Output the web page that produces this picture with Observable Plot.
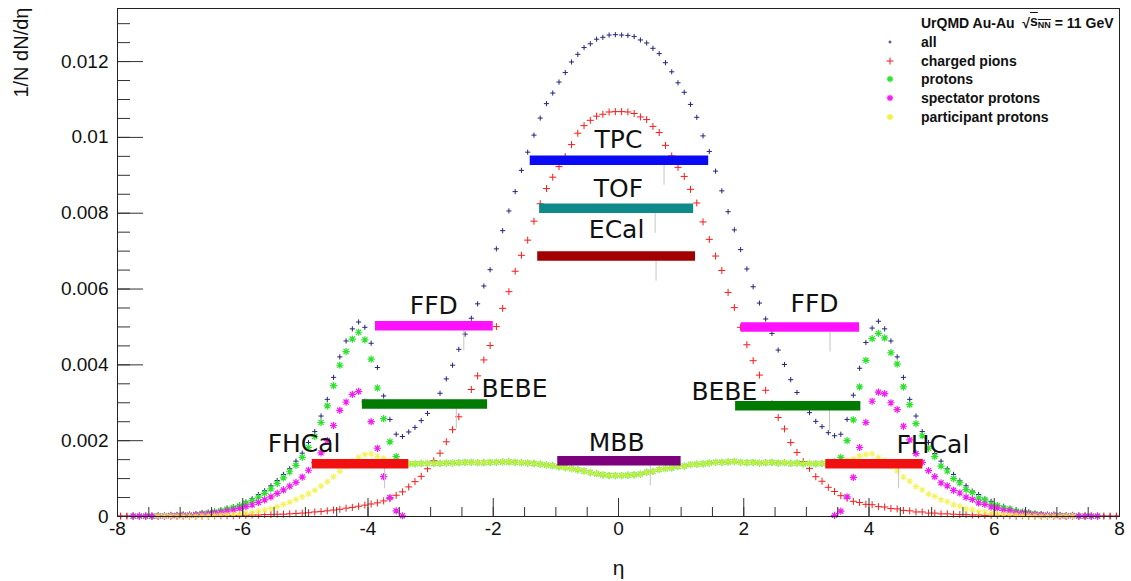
<!DOCTYPE html>
<html>
<head>
<meta charset="utf-8">
<script src="https://cdn.jsdelivr.net/npm/d3@7"></script>
<script src="https://cdn.jsdelivr.net/npm/@observablehq/plot@0.6"></script>
<style>
  html, body { margin: 0; padding: 0; background: #fff; }
  #wrap { position: relative; width: 1131px; height: 581px; background: #fff; }
  #legend {
    position: absolute; left: 878px; top: 14px;
    font: bold 14px "Liberation Sans", Arial, Helvetica, sans-serif; color: #111;
  }
  #legend .row { height: 18.8px; line-height: 18.8px; display: flex; align-items: center; white-space: nowrap; }
  #legend .sym { width: 24px; height: 18.8px; display: inline-block; margin-right: 19px; }
  #legend .sym svg { display: block; }
  #legend .first { padding-left: 43px; }
  .rad { text-decoration: overline; }
  .rad sub { font-size: 9px; vertical-align: -2px; }
</style>
</head>
<body>
<div id="wrap"></div>
<script>
// eta histograms, 160 bins of width 0.1 from -8 to 8; values in units of 1e-5 (1/N dN/deta)
const etaMin = -8;
const binWidth = 0.1;
const UNIT = 1e-5;

const allParticles = [
  1,1,1,1,2,2,2,3,3,4,
  5,6,7,9,11,14,17,22,26,31,
  38,47,58,68,81,95,111,126,146,167,
  195,224,265,309,367,421,463,495,513,499,
  457,393,318,256,217,211,223,235,253,272,
  297,325,363,399,441,481,523,561,608,651,
  706,754,806,857,913,961,1006,1051,1089,1117,
  1146,1171,1199,1219,1237,1247,1259,1264,1270,1271,
  1270,1269,1266,1257,1249,1235,1221,1197,1173,1144,
  1119,1087,1053,1004,963,911,859,804,756,704,
  653,606,563,521,483,439,401,361,327,295,
  274,251,237,221,213,217,256,320,391,459,
  497,515,495,463,421,367,309,265,224,195,
  166,146,126,111,94,81,67,58,46,40,
  30,27,20,18,13,12,8,7,5,4,
  4,3,2,2,2,1,1,1,1,1
];

const chargedPions = [
  1,1,1,1,1,1,1,1,1,1,
  1,1,1,1,1,2,2,2,2,3,
  3,4,4,5,5,6,6,7,8,9,
  10,12,13,15,17,19,22,24,27,30,
  33,36,41,47,56,65,78,92,106,126,
  147,167,197,229,263,295,335,371,413,451,
  501,549,593,647,689,729,779,825,865,895,
  923,949,981,1011,1031,1045,1056,1061,1067,1068,
  1068,1067,1063,1054,1047,1029,1013,979,951,921,
  897,863,827,777,731,687,649,591,551,499,
  453,411,373,333,297,261,231,195,169,145,
  127,105,93,77,66,55,48,40,37,32,
  31,26,25,21,20,16,15,12,12,9,
  9,7,7,6,5,5,4,4,3,3,
  3,2,2,1,2,1,1,1,1,1,
  1,1,1,1,1,1,1,1,1,1
];

const protons = [
  0,0,1,1,1,1,2,2,3,3,
  4,4,5,8,9,12,15,19,23,28,
  35,42,51,61,73,87,102,118,135,156,
  182,211,248,292,345,399,435,468,486,466,
  415,339,258,197,158,142,139,139,140,140,
  140,140,141,141,142,143,143,142,142,143,
  143,144,144,143,142,141,140,138,136,134,
  131,129,126,123,120,116,113,110,108,108,
  108,109,110,112,117,119,124,126,128,132,
  133,137,138,139,141,143,143,144,145,143,
  142,143,141,142,143,141,142,140,141,139,
  140,139,140,138,144,156,200,255,342,412,
  469,483,471,432,402,342,295,245,213,180,
  158,133,120,100,89,71,63,49,44,33,
  29,22,20,14,12,10,7,5,4,4,
  3,2,3,1,1,1,1,0,0,0
];

const spectatorProtons = [
  0,0,1,1,1,1,1,1,2,2,
  3,3,4,6,7,9,11,14,17,21,
  26,31,37,44,52,61,70,80,90,104,
  122,142,168,200,240,280,302,322,330,302,
  250,180,105,50,15,2,0,0,0,0,
  0,0,0,0,0,0,0,0,0,0,
  0,0,0,0,0,0,0,0,0,0,
  0,0,0,0,0,0,0,0,0,0,
  0,0,0,0,0,0,0,0,0,0,
  0,0,0,0,0,0,0,0,0,0,
  0,0,0,0,0,0,0,0,0,0,
  0,0,0,0,3,14,52,103,182,248,
  304,328,324,300,282,238,202,166,143,121,
  105,89,81,69,62,51,45,36,32,25,
  22,16,15,10,9,7,5,4,3,3,
  2,1,2,1,1,1,1,0,0,0
];

const participantProtons = [
  0,0,0,0,0,0,1,1,1,1,
  1,1,1,2,2,3,4,5,6,7,
  9,11,14,17,21,26,32,38,45,52,
  60,69,80,92,105,119,133,146,156,164,
  165,159,153,147,143,140,139,139,140,140,
  140,140,141,141,142,143,143,142,142,143,
  143,144,144,143,142,141,140,138,136,134,
  131,129,126,123,120,116,113,110,108,108,
  108,109,110,112,117,119,124,126,128,132,
  133,137,138,139,141,143,143,144,145,143,
  142,143,141,142,143,141,142,140,141,139,
  140,139,140,138,141,142,148,152,160,164,
  165,155,147,132,120,104,93,79,70,59,
  53,44,39,31,27,20,18,13,12,8,
  7,6,5,4,3,3,2,1,1,1,
  1,1,1,0,0,0,0,0,0,0
];

// detector acceptances: eta range and the height at which each bar is drawn
const barNames = ["TPC", "TOF", "ECal", "FFD", "FFD", "BEBE", "BEBE", "FHCal", "FHCal", "MBB"];
const barEtaFrom = [-1.41, -1.26, -1.29, -3.88, 1.96, -4.09, 1.87, -4.89, 3.31, -0.97];
const barEtaTo   = [ 1.44,  1.20,  1.23, -2.00, 3.85, -2.09, 3.87, -3.35, 4.86,  1.00];
const barLevel   = [0.0094, 0.00813, 0.00687, 0.00503, 0.00500, 0.00297, 0.00292, 0.00139, 0.00139, 0.00147];

// detector name annotations
const labelText = ["TPC", "TOF", "ECal", "FFD", "FFD", "BEBE", "BEBE", "FHCal", "FHCal", "MBB"];
const labelEta  = [0.0, 0.0, -0.03, -2.95, 3.13, -1.66, 1.69, -5.02, 5.02, -0.03];
const labelLevel = [0.00992, 0.00863, 0.00755, 0.00555, 0.00560, 0.00337, 0.00329, 0.00191, 0.00189, 0.00195];

const xMajorTicks = [-8, -6, -4, -2, 0, 2, 4, 6, 8];
const yMajorTicks = [0, 0.002, 0.004, 0.006, 0.008, 0.01, 0.012];
const legendLabels = ["all", "charged pions", "protons", "spectator protons", "participant protons"];

const detectorColor = {
  TPC: "#0a0af5", TOF: "#0f8a8a", ECal: "#a10000", FFD: "#ff10ff",
  BEBE: "#007a00", FHCal: "#f01010", MBB: "#7d007d"
};

// ---------------------------------------------------------------------------
const nBins = allParticles.length;
const binCenters = d3.range(nBins).map(i => etaMin + binWidth * (i + 0.5));
const toRows = values => values
  .map((v, i) => ({eta: binCenters[i], v: v * UNIT}))
  .filter(d => d.v > 0);

const bars = barNames.map((name, i) => ({
  name, x1: barEtaFrom[i], x2: barEtaTo[i], y: barLevel[i],
  // thin stem that hangs under each bar
  stem: barEtaFrom[i] + 0.75 * (barEtaTo[i] - barEtaFrom[i])
}));
const labels = labelText.map((t, i) => ({t, x: labelEta[i], y: labelLevel[i]}));

// ROOT-like star marker: four crossing strokes
const star = {
  draw(context, size) {
    const r = Math.sqrt(size) * 0.6;
    const d = r * Math.SQRT1_2;
    context.moveTo(-r, 0); context.lineTo(r, 0);
    context.moveTo(0, -r); context.lineTo(0, r);
    context.moveTo(-d, -d); context.lineTo(d, d);
    context.moveTo(-d, d); context.lineTo(d, -d);
  }
};

const W = 1131, H = 581;
const mL = 117, mR = 12, mT = 8, mB = 65;
const plotW = W - mL - mR, plotH = H - mT - mB;
const xMinorTicks = d3.range(-8, 8.001, 0.5);
const yMinorTicks = d3.range(0, 0.01301, 0.0005);
const fmtX = d => String(d);
const fmtY = d => (d === 0 ? "0" : String(+d.toFixed(3)));

const colors = {
  all: "#26267c", pions: "#ff1a1a", protons: "#2be32b",
  spectator: "#f21cf2", participant: "#f2f03a"
};

const chart = Plot.plot({
  width: W, height: H,
  marginLeft: mL, marginRight: mR, marginTop: mT, marginBottom: mB,
  x: {domain: [-8, 8]},
  y: {domain: [0, 0.0134]},
  style: {background: "#fff", fontFamily: "'Liberation Sans', Arial, Helvetica, sans-serif", color: "#111"},
  marks: [
    // histograms drawn as markers
    Plot.dot(toRows(allParticles), {x: "eta", y: "v", symbol: "plus", r: 1.8, stroke: colors.all, strokeWidth: 1}),
    Plot.dot(toRows(chargedPions), {x: "eta", y: "v", symbol: "plus", r: 2.4, stroke: colors.pions, strokeWidth: 1}),
    Plot.dot(toRows(protons), {x: "eta", y: "v", symbol: star, r: 3.4, fill: "none", stroke: colors.protons, strokeWidth: 1.2}),
    Plot.dot(toRows(spectatorProtons), {x: "eta", y: "v", symbol: star, r: 3.4, fill: "none", stroke: colors.spectator, strokeWidth: 1.2}),
    Plot.dot(toRows(participantProtons), {x: "eta", y: "v", symbol: star, r: 3.0, fill: "none", stroke: colors.participant, strokeWidth: 1.1, strokeOpacity: 0.8}),

    // detector acceptance bars
    Plot.ruleX(bars, {x: "stem", y1: "y", y2: d => d.y - 0.00066, stroke: "#c4c4c4", strokeWidth: 1}),
    Plot.ruleY(bars, {y: "y", x1: "x1", x2: "x2", stroke: d => detectorColor[d.name], strokeWidth: 9.5}),
    Plot.text(labels, {x: "x", y: "y", text: "t", fontSize: 25, fontFamily: "'DejaVu Sans', sans-serif", fill: "#111", lineAnchor: "middle"}),

    // inward ROOT-style ticks
    Plot.tickX(xMajorTicks, {x: d => d, stroke: "#333", insetTop: plotH - 18}),
    Plot.tickX(xMinorTicks, {x: d => d, stroke: "#333", insetTop: plotH - 9}),
    Plot.tickY(yMajorTicks, {y: d => d, stroke: "#333", insetRight: plotW - 26}),
    Plot.tickY(yMinorTicks, {y: d => d, stroke: "#333", insetRight: plotW - 13}),
    Plot.axisX({ticks: xMajorTicks, tickSize: 0, tickPadding: 5, tickFormat: fmtX, fontSize: 19, label: null}),
    Plot.axisY({ticks: yMajorTicks, tickSize: 0, tickPadding: 9, tickFormat: fmtY, fontSize: 19, label: null}),

    // axis titles
    Plot.text(["1/N dN/d\u03b7"], {frameAnchor: "top-left", text: d => d, rotate: -90, textAnchor: "end",
      lineAnchor: "middle", dx: -96, dy: -1, fontSize: 20, fill: "#111"}),
    Plot.text(["\u03b7"], {frameAnchor: "bottom", text: d => d, dy: 58, fontSize: 21, fill: "#111"}),

    Plot.frame({stroke: "#222", strokeWidth: 1})
  ]
});

const wrap = document.getElementById("wrap");
wrap.appendChild(chart);

// legend box in the upper right corner
function markerSvg(kind, color) {
  const ns = "http://www.w3.org/2000/svg";
  const svg = document.createElementNS(ns, "svg");
  svg.setAttribute("width", 24); svg.setAttribute("height", 18);
  const p = document.createElementNS(ns, "path");
  const cx = 12, cy = 9;
  let d = "";
  if (kind === "plus-small") d = `M${cx - 1.5},${cy}H${cx + 1.5}M${cx},${cy - 1.5}V${cy + 1.5}`;
  else if (kind === "plus") d = `M${cx - 3.5},${cy}H${cx + 3.5}M${cx},${cy - 3.5}V${cy + 3.5}`;
  else {
    const r = 3.2, q = r * Math.SQRT1_2;
    d = `M${cx - r},${cy}H${cx + r}M${cx},${cy - r}V${cy + r}M${cx - q},${cy - q}L${cx + q},${cy + q}M${cx - q},${cy + q}L${cx + q},${cy - q}`;
  }
  p.setAttribute("d", d);
  p.setAttribute("stroke", color);
  p.setAttribute("stroke-width", kind === "star" ? 1.3 : 1);
  p.setAttribute("fill", "none");
  svg.appendChild(p);
  return svg;
}

const legend = document.createElement("div");
legend.id = "legend";
const head = document.createElement("div");
head.className = "row first";
head.innerHTML = 'UrQMD Au-Au&nbsp;&nbsp;\u221a<span class="rad">s<sub>NN</sub></span>&nbsp;= 11 GeV';
legend.appendChild(head);
const legendMarks = [
  ["plus-small", colors.all], ["plus", colors.pions], ["star", colors.protons],
  ["star", colors.spectator], ["star", colors.participant]
];
legendLabels.forEach((name, i) => {
  const row = document.createElement("div");
  row.className = "row";
  const s = document.createElement("span");
  s.className = "sym";
  s.appendChild(markerSvg(legendMarks[i][0], legendMarks[i][1]));
  row.appendChild(s);
  row.appendChild(document.createTextNode(name));
  legend.appendChild(row);
});
wrap.appendChild(legend);
</script>
</body>
</html>
